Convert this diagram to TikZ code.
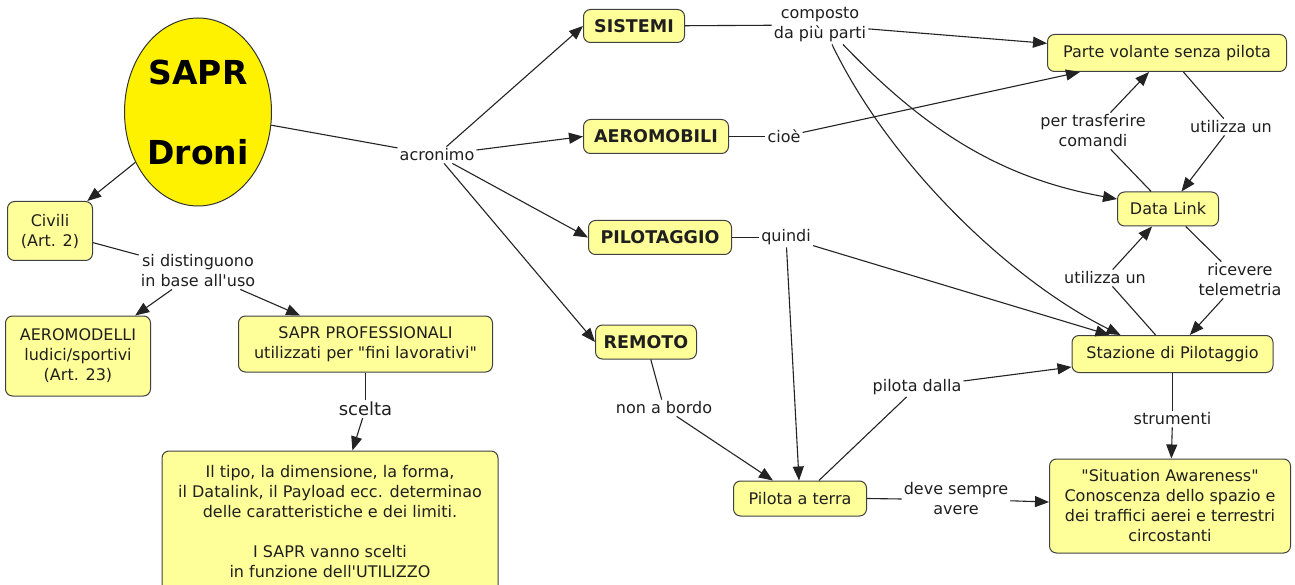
\documentclass[tikz,border=0pt]{standalone}
\usepackage{fontspec}
\setmainfont{DejaVu Sans}[Ligatures=TeXOff]
\usetikzlibrary{arrows.meta,shapes.geometric}
\definecolor{conceptfill}{RGB}{255,255,153}
\definecolor{linkgray}{RGB}{35,35,35}

\begin{document}
\begin{tikzpicture}[
    x = 1pt,
    y = -1pt,
    >={Triangle[length=14pt, width=11pt]},
    every node/.style = {font=\fontsize{16}{20}\selectfont, text=black!88},
    concept/.style = {draw=black!75, fill=conceptfill, rounded corners=7pt,
              line width=1pt, align=center, inner sep=0pt},
    bconcept/.style = {concept, font=\fontsize{17.5}{20}\selectfont\bfseries},
    topic/.style = {ellipse, draw=black!80, fill=yellow, line width=1pt,
              minimum width=147pt, minimum height=188pt, inner sep=0pt,
              align=center, text=black, font=\fontsize{33}{80}\selectfont\bfseries},
    phrase/.style = {align=center, inner sep=2pt},
    link/.style = {draw=linkgray, line width=1.1pt},
    ]

\useasboundingbox (0,0) rectangle (1295,585);

\node[topic] (c_sapr) at (198,112){SAPR\\Droni};
\node[concept, minimum width=85pt, minimum height=59pt] (c_civili) at (50,231){Civili\\(Art. 2)};
\node[concept, minimum width=145pt, minimum height=80pt] (c_aeromodelli) at (78,356){AEROMODELLI\\ludici/sportivi\\(Art. 23)};
\node[concept, minimum width=254pt, minimum height=56pt] (c_professionali) at (365.5,344){SAPR PROFESSIONALI\\utilizzati per "fini lavorativi"};
\node[concept, minimum width=336pt, minimum height=142pt] (c_scelta) at (330,522){Il tipo, la dimensione, la forma,\\il Datalink, il Payload ecc. determinao\\delle caratteristiche e dei limiti.\\[20pt]I SAPR vanno scelti\\in funzione dell'UTILIZZO};

\node[bconcept, minimum width=101pt, minimum height=33pt] (c_sistemi) at (634,26){SISTEMI};
\node[bconcept, minimum width=145pt, minimum height=34pt] (c_aeromobili) at (656,136.5){AEROMOBILI};
\node[bconcept, minimum width=143pt, minimum height=34pt] (c_pilotaggio) at (660,237.5){PILOTAGGIO};
\node[bconcept, minimum width=101pt, minimum height=34pt] (c_remoto) at (646,342){REMOTO};

\node[concept, minimum width=239pt, minimum height=37pt] (c_parte) at (1167,53){Parte volante senza pilota};
\node[concept, minimum width=101pt, minimum height=34pt] (c_datalink) at (1168,209){Data Link};
\node[concept, minimum width=201pt, minimum height=37pt] (c_stazione) at (1172.5,354){Stazione di Pilotaggio};
\node[concept, minimum width=241pt, minimum height=94pt] (c_awareness) at (1170,506){"Situation Awareness"\\Conoscenza dello spazio e\\dei traffici aerei e terrestri\\circostanti};
\node[concept, minimum width=133pt, minimum height=35pt] (c_pilota) at (800,498.5){Pilota a terra};

\node[phrase] (l_distinguono) at (198,271){si distinguono\\in base all'uso};
\node[phrase, font=\fontsize{18}{22}\selectfont] (l_scelta) at (365.5,409){scelta};
\node[phrase] (l_acronimo) at (437,155){acronimo};
\node[phrase] (l_composto) at (820,25){composto\\da più parti};
\node[phrase] (l_cioe) at (784,136.5){cioè};
\node[phrase] (l_quindi) at (786,237.5){quindi};
\node[phrase] (l_bordo) at (664,408){non a bordo};
\node[phrase] (l_comandi) at (1093,131){per trasferire\\comandi};
\node[phrase] (l_utilizza_1) at (1231,127){utilizza un};
\node[phrase] (l_utilizza_2) at (1105,278){utilizza un};
\node[phrase] (l_telemetria) at (1240,280){ricevere\\telemetria};
\node[phrase] (l_strumenti) at (1172.5,419){strumenti};
\node[phrase] (l_avere) at (956,499){deve sempre\\avere};
\node[phrase] (l_dalla) at (917,387){pilota dalla};

\draw [link, ->] (c_sapr) -- (c_civili);
\draw [link] (c_civili) -- (l_distinguono);
\draw [link, ->] (l_distinguono) -- (c_aeromodelli);
\draw [link, ->] (l_distinguono) -- (c_professionali);
\draw [link] (c_professionali) -- (l_scelta);
\draw [link, ->] (l_scelta) -- (c_scelta);

\draw [link] (c_sapr) -- (l_acronimo);
\draw [link, ->] (l_acronimo) -- (c_sistemi.west);
\draw [link, ->] (l_acronimo) -- (c_aeromobili.west);
\draw [link, ->] (l_acronimo) -- (c_pilotaggio.west);
\draw [link, ->] (l_acronimo) -- (c_remoto.west);

\draw [link] (c_sistemi) -- (l_composto);
\draw [link, ->] (l_composto) -- (c_parte);
\draw [link, ->] ([xshift=23pt]l_composto.south) .. controls (925,130) and (1000,178) .. ([yshift=10pt]c_datalink.west);
\draw [link, ->] ([xshift=12pt]l_composto.south) .. controls (890,165) and (1010,280) .. ([xshift=-52pt]c_stazione.north);

\draw [link] (c_aeromobili.east) -- (l_cioe.west);
\draw [link, ->] (l_cioe) -- (c_parte);

\draw [link] (c_pilotaggio.east) -- (l_quindi.west);
\draw [link, ->] (l_quindi) -- (c_stazione);
\draw [link, ->] (l_quindi) -- (c_pilota);

\draw [link] (c_remoto) -- (l_bordo);
\draw [link, ->] (l_bordo) -- (c_pilota);

\draw [link] (c_parte) -- (l_utilizza_1);
\draw [link, ->] (l_utilizza_1) -- (c_datalink);
\draw [link] (c_datalink) -- (l_comandi);
\draw [link, ->] (l_comandi) -- (c_parte);

\draw [link] (c_stazione) -- (l_utilizza_2);
\draw [link, ->] (l_utilizza_2) -- (c_datalink);
\draw [link] (c_datalink) -- (l_telemetria);
\draw [link, ->] (l_telemetria) -- (c_stazione);

\draw [link] (c_stazione) -- (l_strumenti);
\draw [link, ->] (l_strumenti) -- (c_awareness);

\draw [link] (c_pilota) -- (l_dalla);
\draw [link, ->] (l_dalla) -- (c_stazione);
\draw [link] (c_pilota.east) -- (l_avere.west);
\draw [link, ->] (l_avere) -- (c_awareness);

\end{tikzpicture}
\end{document}
